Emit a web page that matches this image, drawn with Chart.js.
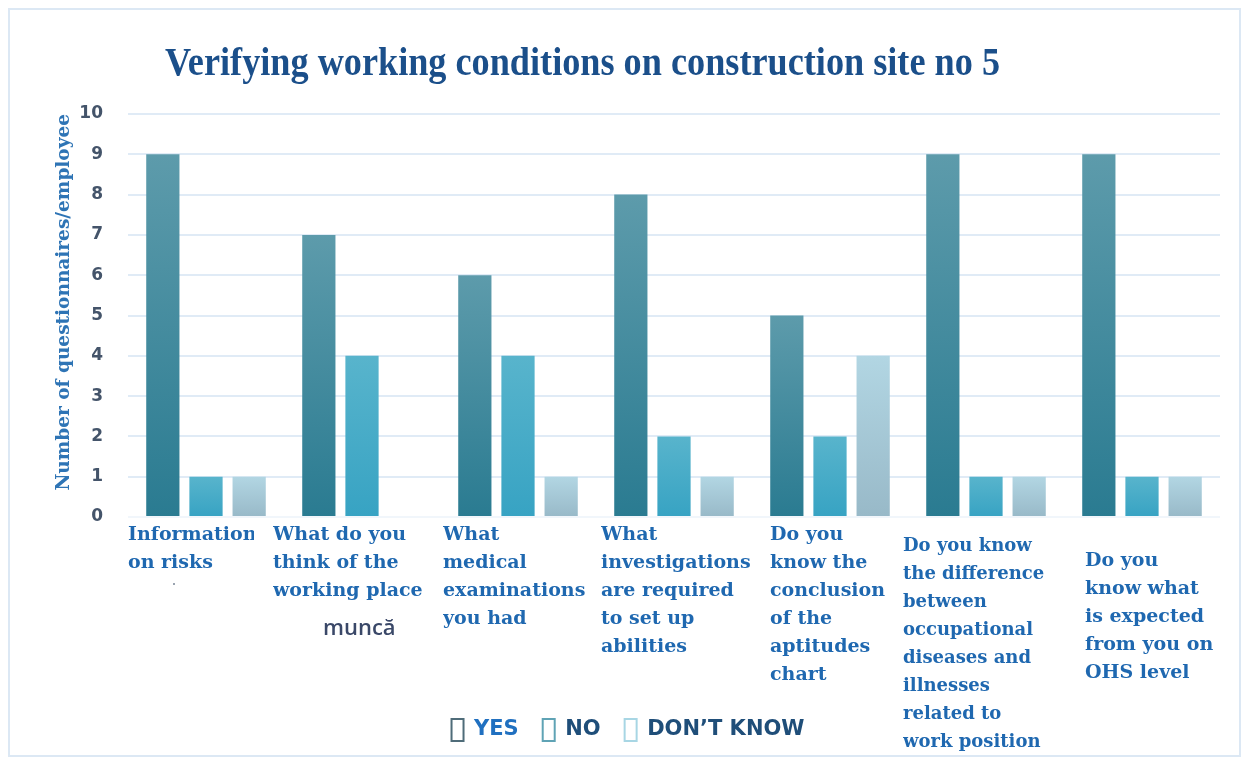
<!DOCTYPE html>
<html>
<head>
<meta charset="utf-8">
<title>Construction site no 5</title>
<script src="https://cdn.jsdelivr.net/npm/chart.js@4.4.0/dist/chart.umd.min.js"></script>
<style>
    body { margin: 0; background: #fff; }
    #frame { position: absolute; left: 8px; top: 8px; width: 1229px; height: 745px; border: 2px solid #dce8f4; }
    #wrap { position: absolute; left: 0; top: 0; width: 1248px; height: 762px; }
</style>
</head>
<body>
<div id="frame"></div>
<div id="wrap"><canvas id="myChart" width="1248" height="762"></canvas></div>
<script>
// questionnaire answers per question
var questions = [
    ['Information', 'on risks'],
    ['What do you', 'think of the', 'working place'],
    ['What', 'medical', 'examinations', 'you had'],
    ['What', 'investigations', 'are required', 'to set up', 'abilities'],
    ['Do you', 'know the', 'conclusion', 'of the', 'aptitudes', 'chart'],
    ['Do you know', 'the difference', 'between', 'occupational', 'diseases and', 'illnesses', 'related to', 'work position'],
    ['Do you', 'know what', 'is expected', 'from you on', 'OHS level']
];
var seriesNames = ['YES', 'NO', 'DON\u2019T KNOW'];
var yes = [9, 7, 6, 8, 5, 9, 9];
var no = [1, 4, 4, 2, 2, 1, 1];
var dontKnow = [1, 0, 1, 1, 4, 1, 1];
var yMin = 0, yMax = 10, yStep = 1;

var chartTitle = 'Verifying working conditions on construction site no 5';
var yTitle = 'Number of questionnaires/employee';

// where each question text sits under its group of bars
var labelShift = [0, -11, 3, 5, 18, -5, 21];
var labelDrop = [18, 18, 18, 18, 18, 29, 44];
var labelSize = [19, 19, 19, 19, 19, 18, 19];
var labelClip = [126, 180, 180, 180, 180, 180, 180];

var legendEdge = ['#4f6c79', '#5fa3b5', '#a8d6e4'];
var legendText = ['#2070c0', '#1f4e79', '#1f4e79'];

function barFill(topColor, bottomColor, flat) {
    return function (c) {
        var chart = c.chart;
        if (!chart.chartArea || c.type !== 'data') return flat;
        var y = chart.scales.y;
        var top = y.getPixelForValue(c.raw), base = y.getPixelForValue(0);
        if (!(base > top)) return flat;
        var g = chart.ctx.createLinearGradient(0, top, 0, base);
        g.addColorStop(0, topColor);
        g.addColorStop(1, bottomColor);
        return g;
    };
}

var textPlugin = {
    id: 'extraText',
    afterDraw: function (chart) {
        var ctx = chart.ctx, x = chart.scales.x, area = chart.chartArea;
        var slot = x.width / questions.length;
        ctx.save();
        // title, squeezed to the width it takes in the report
        ctx.font = 'bold 40px "Liberation Serif"';
        ctx.fillStyle = '#1b4f8a';
        ctx.textBaseline = 'alphabetic';
        var w = ctx.measureText(chartTitle).width;
        ctx.translate(165, 75);
        ctx.scale(835 / w, 1);
        ctx.fillText(chartTitle, 0, 0);
        ctx.restore();

        // question texts
        questions.forEach(function (lines, i) {
            var left = x.getPixelForValue(i) - slot / 2 + labelShift[i];
            var y0 = area.bottom + labelDrop[i];
            ctx.save();
            ctx.beginPath();
            ctx.rect(left, area.bottom, labelClip[i], 260);
            ctx.clip();
            ctx.font = 'bold ' + labelSize[i] + 'px "DejaVu Serif"';
            ctx.fillStyle = '#1f68b0';
            ctx.textAlign = 'left';
            lines.forEach(function (line, j) {
                ctx.fillText(line, left, y0 + j * 28);
            });
            ctx.restore();
        });

        ctx.save();
        ctx.font = '600 22px "Open Sans"';
        ctx.fillStyle = '#3a4868';
        ctx.fillText('munc\u0103', x.getPixelForValue(1) - slot / 2 + 39, area.bottom + 112);
        ctx.fillStyle = '#9aa4b0';
        ctx.fillRect(x.getPixelForValue(0) - slot / 2 + 45, area.bottom + 66, 2, 2);
        ctx.restore();
    }
};

var ctx = document.getElementById('myChart').getContext('2d');
var chart = new Chart(ctx, {
    type: 'bar',
    data: {
        labels: questions,
        datasets: [{
            label: seriesNames[0],
            data: yes,
            backgroundColor: barFill('#5d9bab', '#2a7b91', '#3a8ea6')
        }, {
            label: seriesNames[1],
            data: no,
            backgroundColor: barFill('#58b4cc', '#37a3c3', '#45abc8')
        }, {
            label: seriesNames[2],
            data: dontKnow,
            backgroundColor: barFill('#b2d6e3', '#98b9c8', '#a8cbd8')
        }]
    },
    options: {
        responsive: false,
        animation: false,
        layout: { padding: { top: 114, right: 28, bottom: 11, left: 36 } },
        datasets: {
            bar: { categoryPercentage: 0.83, barPercentage: 0.77 }
        },
        scales: {
            x: {
                grid: { display: false },
                border: { display: false },
                ticks: { display: false },
                afterFit: function (scale) { scale.height = 178; }
            },
            y: {
                min: yMin,
                max: yMax,
                ticks: {
                    stepSize: yStep,
                    padding: 25,
                    color: '#44546a',
                    font: { family: 'DejaVu Sans', size: 17, weight: 'bold' }
                },
                grid: {
                    drawTicks: false,
                    lineWidth: 2,
                    color: function (c) { return c.tick && c.tick.value === 0 ? '#f1f6fb' : '#e0ebf6'; }
                },
                border: { display: false },
                title: {
                    display: true,
                    text: yTitle,
                    align: 'end',
                    color: '#2e74b5',
                    padding: { top: 17, bottom: 0 },
                    font: { family: 'DejaVu Serif', size: 18.5, weight: 'bold' }
                },
                afterFit: function (scale) { scale.width = 92; }
            }
        },
        plugins: {
            title: { display: false },
            tooltip: { enabled: false },
            legend: {
                position: 'bottom',
                labels: {
                    boxWidth: 12,
                    boxHeight: 22,
                    padding: 24,
                    font: { family: 'DejaVu Sans', size: 21, weight: 'bold' },
                    generateLabels: function (chart) {
                        return chart.data.datasets.map(function (ds, i) {
                            return {
                                text: ds.label,
                                fillStyle: '#ffffff',
                                strokeStyle: legendEdge[i],
                                lineWidth: 2,
                                fontColor: legendText[i],
                                datasetIndex: i,
                                hidden: false
                            };
                        });
                    }
                }
            }
        }
    },
    plugins: [textPlugin]
});
</script>
</body>
</html>
